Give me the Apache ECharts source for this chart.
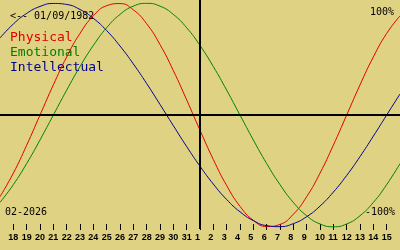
<!DOCTYPE html>
<html>
<head>
<meta charset="utf-8">
<script src="https://cdn.jsdelivr.net/npm/echarts@6/dist/echarts.min.js"></script>
<style>
html,body{margin:0;padding:0;background:#e0d283;}
#c{width:400px;height:250px;}
</style>
</head>
<body>
<div id="c"></div>
<script>
// Days shown: 17 Jan .. 16 Feb 2026
var days = ['17','18','19','20','21','22','23','24','25','26','27','28','29','30','31',
            '1','2','3','4','5','6','7','8','9','10','11','12','13','14','15','16'];
var physical = [-73.1,-52.0,-27.0,0,27.0,52.0,73.1,88.8,97.9,99.8,94.2,81.7,63.1,39.8,13.6,
                -13.6,-39.8,-63.1,-81.7,-94.2,-99.8,-97.9,-88.8,-73.1,-52.0,-27.0,0,27.0,52.0,73.1,88.8];
var emotional = [-78.2,-62.3,-43.4,-22.3,0,22.3,43.4,62.3,78.2,90.1,97.5,100,97.5,90.1,78.2,
                 62.3,43.4,22.3,0,-22.3,-43.4,-62.3,-78.2,-90.1,-97.5,-100,-97.5,-90.1,-78.2,-62.3,-43.4];
var intellectual = [69.0,81.5,91.0,97.2,99.9,99.0,94.5,86.6,75.6,61.8,45.8,28.2,9.5,-9.5,-28.2,
                    -45.8,-61.8,-75.6,-86.6,-94.5,-99.0,-99.9,-97.2,-91.0,-81.5,-69.0,-54.1,-37.2,-18.9,0,18.9];
var todayLabel = '1';
var birthText = '<-- 01/09/1982';
var monthText = '02-2026';
var seriesNames = ['Physical','Emotional','Intellectual'];
var colors = ['#e00000','#008000','#000090'];

var chart = echarts.init(document.getElementById('c'), null, {renderer:'canvas'});
var mono = '"DejaVu Sans Mono", "Liberation Mono", monospace';

function lineSeries(name, data, color, withMarks) {
  var s = {
    name: name, type: 'line', data: data, smooth: true, showSymbol: false,
    lineStyle: {color: color, width: 1}, itemStyle: {color: color},
    animation: false, silent: true
  };
  if (withMarks) {
    s.markLine = {
      silent: true, symbol: 'none', animation: false,
      label: {show: false},
      lineStyle: {color: '#000', width: 2, type: 'solid'},
      data: [{yAxis: 0}, {xAxis: todayLabel}]
    };
  }
  return s;
}

chart.setOption({
  backgroundColor: '#e0d283',
  animation: false,
  grid: {left: 0, right: 0, top: 0, bottom: 21, containLabel: false},
  xAxis: {
    type: 'category', data: days, boundaryGap: false,
    offset: -5,
    axisLine: {show: false, onZero: false},
    axisTick: {show: true, length: 6, lineStyle: {color: '#000', width: 1},
      interval: function (i) { return i > 0 && i < days.length - 1; }},
    axisLabel: {
      show: true, margin: 9,
      interval: function (i) { return i > 0 && i < days.length - 1; },
      formatter: function (v) { return '{a|' + v + '}'; },
      rich: {a: {width: 10, align: 'left', fontSize: 9, fontWeight: 'bold',
                 fontFamily: '"Liberation Sans", Arial, sans-serif', color: '#000'}}
    },
    splitLine: {show: false}
  },
  yAxis: {type: 'value', min: -102, max: 103, show: false, splitLine: {show: false}},
  series: [
    lineSeries(seriesNames[0], physical, colors[0], true),
    lineSeries(seriesNames[1], emotional, colors[1], false),
    lineSeries(seriesNames[2], intellectual, colors[2], false)
  ],
  graphic: [
    {type: 'text', x: 10, y: 16, style: {text: birthText, font: '10px ' + mono, fill: '#000', textVerticalAlign: 'middle'}},
    {type: 'text', x: 10, y: 38, style: {text: seriesNames[0], font: '13px ' + mono, fill: colors[0], textVerticalAlign: 'middle'}},
    {type: 'text', x: 10, y: 53, style: {text: seriesNames[1], font: '13px ' + mono, fill: colors[1], textVerticalAlign: 'middle'}},
    {type: 'text', x: 10, y: 68, style: {text: seriesNames[2], font: '13px ' + mono, fill: colors[2], textVerticalAlign: 'middle'}},
    {type: 'text', x: 394, y: 12, style: {text: '100%', font: '10px ' + mono, fill: '#000', textAlign: 'right', textVerticalAlign: 'middle'}},
    {type: 'text', x: 395, y: 212, style: {text: '-100%', font: '10px ' + mono, fill: '#000', textAlign: 'right', textVerticalAlign: 'middle'}},
    {type: 'text', x: 5, y: 212, style: {text: monthText, font: '10px ' + mono, fill: '#000', textVerticalAlign: 'middle'}}
  ]
});
</script>
</body>
</html>
